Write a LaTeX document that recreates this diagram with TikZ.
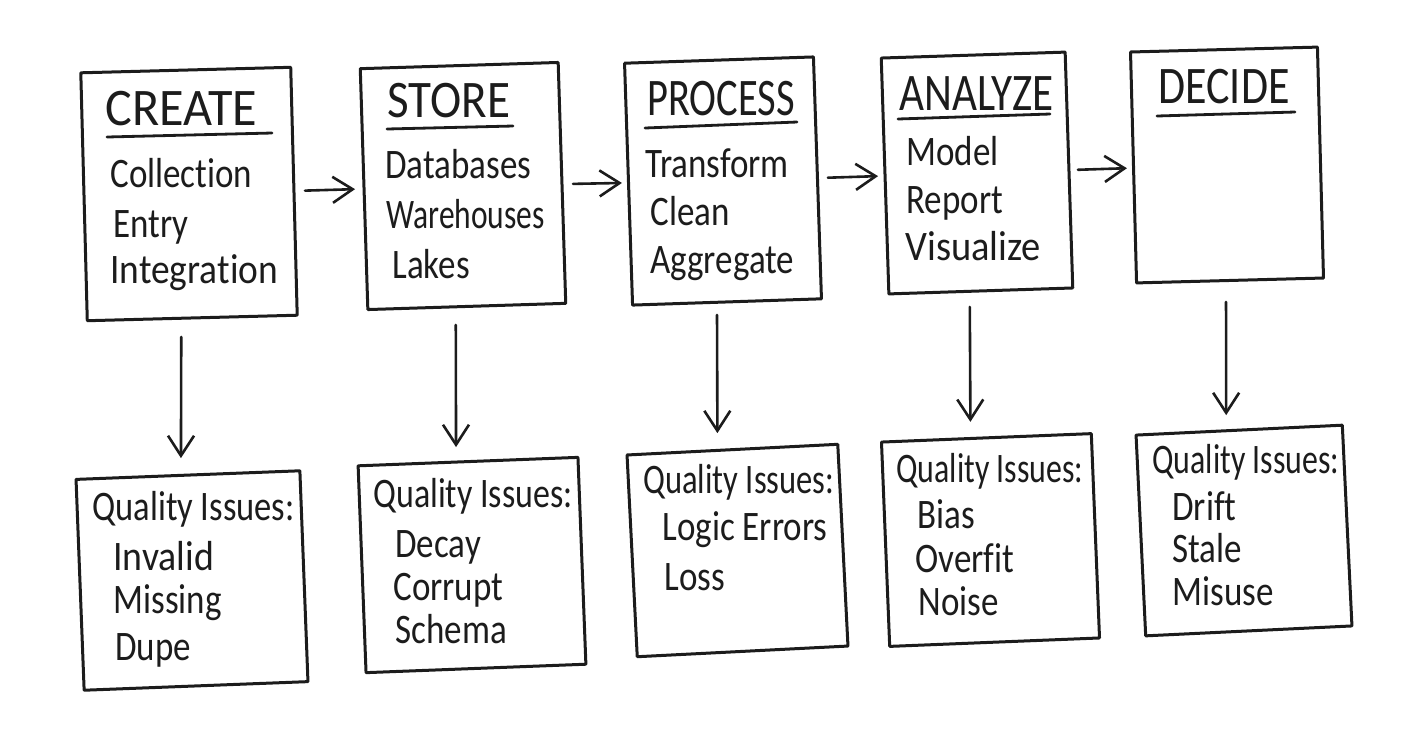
\documentclass[tikz,border=0pt]{standalone}
\usepackage{fontspec}
\setmainfont{Carlito}[Ligatures=NoCommon]
\usepackage{graphicx}
\usetikzlibrary{arrows.meta,calc}
\definecolor{ink}{HTML}{1C1C1C}
\newcommand{\hw}[1]{\scalebox{1}[1.2]{#1}}
\newcommand{\hwx}[2]{\scalebox{#1}[1.2]{#2}}
\begin{document}
\begin{tikzpicture}[x=0.5pt,y=-0.5pt,line join=round,line cap=round,
  box/.style={draw=ink,line width=1.5pt,inner sep=0pt,outer sep=0pt},
  ttl/.style={anchor=base west,inner sep=0pt,text=ink,font=\fontsize{22}{26}\selectfont},
  itm/.style={anchor=base west,inner sep=0pt,text=ink,font=\fontsize{17.5}{21}\selectfont},
  arr/.style={draw=ink,line width=1.3pt,-{Straight Barb[length=10pt,width=13pt]}},
  uline/.style={draw=ink,line width=1.4pt}]
\useasboundingbox (0,0) rectangle (1408,736);

% top boxes
\node[box,minimum width=105pt,minimum height=124pt,rotate=1.5] (create) at (189,194) {};
\node[box,minimum width=99pt,minimum height=120.5pt,rotate=1.8] (store) at (463,186) {};
\node[box,minimum width=94.5pt,minimum height=121pt,rotate=1.9] (process) at (723,181) {};
\node[box,minimum width=92pt,minimum height=118pt,rotate=1.85] (analyze) at (977,173) {};
\node[box,minimum width=93.5pt,minimum height=115.5pt,rotate=1.5] (decide) at (1227,165) {};

% bottom boxes
\node[box,minimum width=112pt,minimum height=105.5pt,rotate=2.2] (cq) at (192,580.5) {};
\node[box,minimum width=110pt,minimum height=103.5pt,rotate=2.2] (sq) at (472,565) {};
\node[box,minimum width=105.5pt,minimum height=101pt,rotate=2.9] (pq) at (737.5,550.5) {};
\node[box,minimum width=105pt,minimum height=102.25pt,rotate=2.3] (aq) at (990.5,540) {};
\node[box,minimum width=103.25pt,minimum height=100.5pt,rotate=2.75] (dq) at (1244,530.5) {};

% titles and underlines
\node[ttl] (t1) at (105,125) {\hwx{1.14}{CREATE}};
\draw[uline] (107,137) -- (272,133);
\node[ttl] (t2) at (387,117) {\hwx{1.07}{STORE}};
\draw[uline] (387,129) -- (513,126);
\node[ttl] (t3) at (647,115) {\hwx{0.92}{PROCESS}};
\draw[uline] (645,128) -- (797,122);
\node[ttl] (t4) at (899,110) {\hwx{0.98}{ANALYZE}};
\draw[uline] (898,119) -- (1050,114);
\node[ttl] (t5) at (1158,103) {\hw{DECIDE}};
\draw[uline] (1157,116) -- (1295,112);

% top items
\node[itm] (c1) at (110,187) {\hw{Collection}};
\node[itm] (c2) at (113,237) {\hw{Entry}};
\node[itm] (c3) at (110,283) {\hwx{1.07}{Integration}};
\node[itm] (s1) at (385,178) {\hw{Databases}};
\node[itm] (s2) at (386,228) {\hwx{0.9}{Warehouses}};
\node[itm] (s3) at (392,278) {\hw{Lakes}};
\node[itm] (p1) at (645,177) {\hw{Transform}};
\node[itm] (p2) at (650,225) {\hw{Clean}};
\node[itm] (p3) at (650,273) {\hw{Aggregate}};
\node[itm] (a1) at (906,165) {\hw{Model}};
\node[itm] (a2) at (906,213) {\hw{Report}};
\node[itm] (a3) at (905,260) {\hwx{1.1}{Visualize}};

% bottom texts
\node[itm] (q1) at (92,520) {\hwx{0.985}{Quality Issues:}};
\node[itm] (q11) at (113,570) {\hwx{1.08}{Invalid}};
\node[itm] (q12) at (113,613) {\hw{Missing}};
\node[itm] (q13) at (115,660) {\hw{Dupe}};
\node[itm] (q2) at (373,507) {\hwx{0.97}{Quality Issues:}};
\node[itm] (q21) at (395,557) {\hw{Decay}};
\node[itm] (q22) at (393,600) {\hw{Corrupt}};
\node[itm] (q23) at (395,643) {\hw{Schema}};
\node[itm] (q3) at (643,493) {\hwx{0.93}{Quality Issues:}};
\node[itm] (q31) at (662,540) {\hw{Logic Errors}};
\node[itm] (q32) at (664,590) {\hw{Loss}};
\node[itm] (q4) at (896,482) {\hwx{0.91}{Quality Issues:}};
\node[itm] (q41) at (917,528) {\hw{Bias}};
\node[itm] (q42) at (915,572) {\hw{Overfit}};
\node[itm] (q43) at (918,615) {\hw{Noise}};
\node[itm] (q5) at (1152,473) {\hwx{0.91}{Quality Issues:}};
\node[itm] (q51) at (1172,520) {\hw{Drift}};
\node[itm] (q52) at (1172,562) {\hw{Stale}};
\node[itm] (q53) at (1172,605) {\hw{Misuse}};

% horizontal arrows
\draw[arr,shorten <=5.5pt,shorten >=4.5pt] (create) -- (store);
\draw[arr,shorten <=5.5pt,shorten >=3.3pt] (store) -- (process);
\draw[arr,shorten <=5.2pt,shorten >=3.5pt] (process) -- (analyze);
\draw[arr,shorten <=4.5pt,shorten >=3.3pt] (analyze) -- (decide);

% vertical arrows
\draw[arr] ($(create.south)+(-11,19)$) -- ($(cq.north)+(-7,-17)$);
\draw[arr] ($(store.south)+(-11,18.5)$) -- ($(sq.north)+(-12,-14.5)$);
\draw[arr] ($(process.south)+(-10,13)$) -- ($(pq.north)+(-15,-16.5)$);
\draw[arr] ($(analyze.south)+(-11,16)$) -- ($(aq.north)+(-16,-16)$);
\draw[arr] ($(decide.south)+(-4,21.5)$) -- ($(dq.north)+(-13,-15)$);
\end{tikzpicture}
\end{document}
